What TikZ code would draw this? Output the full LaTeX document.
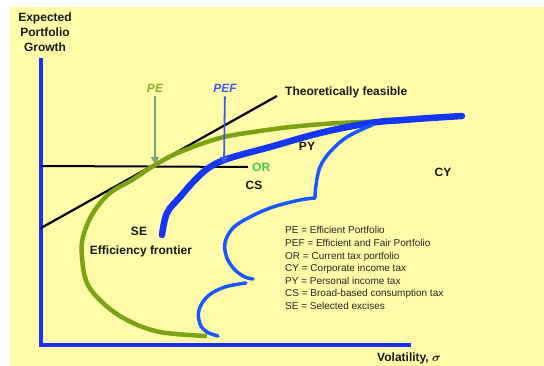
\documentclass[tikz,border=0pt]{standalone}
\usepackage{amsmath}
\usepackage{fontspec}
\setmainfont{Liberation Sans}
\usetikzlibrary{arrows.meta}
\definecolor{bgyellow}{HTML}{FFFBA8}
\definecolor{axisblue}{HTML}{1A2EFF}
\definecolor{taxblue}{HTML}{1A58FF}
\definecolor{thickblue}{HTML}{1536F5}
\definecolor{frontgreen}{HTML}{7BA314}
\definecolor{orgreen}{HTML}{3ECF4A}
\definecolor{pegreen}{HTML}{86AE2A}
\definecolor{pearrow}{HTML}{7E9E78}
\definecolor{pefblue}{HTML}{3A5BE8}
\tikzset{
  lbl/.style={font=\bfseries\fontsize{12}{15}\selectfont, inner sep=0pt, text=black!90},
  keytext/.style={font=\fontsize{10}{12.6}\selectfont, inner sep=0pt, align=left, text=black!85},
  pointer/.style={line width=1.8pt, -{Triangle[width=8pt,length=7pt]}},
  taxcurve/.style={taxblue, line width=3.5pt, line cap=round}
}
\begin{document}
\begin{tikzpicture}[x=1pt,y=-1pt]
\useasboundingbox (0,0) rectangle (544,366);
%background
\fill[bgyellow] (10,7) rectangle (544,366);

%axes
\node[lbl, align=center] (growth) at (45,32) {Expected\\Portfolio\\Growth};
\coordinate (ytop) at (41,58);
\coordinate (origin) at (41,345);
\coordinate (xend) at (411,345);
\draw[axisblue, line width=3.5pt] (ytop) -- (origin) -- (xend);
\node[lbl] (vol) at (409,358) {Volatility, $\boldsymbol{\sigma}$};

%current tax line
\coordinate (orstart) at (41,166);
\node[lbl, text=orgreen, anchor=west] (or) at (252,167) {OR};
\draw[line width=2pt] (orstart) -- (or.west) [shorten >=4pt];

%theoretically feasible
\coordinate (tfstart) at (41,228);
\coordinate (tfend) at (277,96);
\node[lbl, anchor=west] (feasible) at (285,92) {Theoretically feasible};
\draw[line width=2.2pt] (tfstart) -- (tfend);

%efficiency frontier
\draw[frontgreen, line width=4.5pt] plot[smooth, tension=0.6] coordinates {
  (395,121) (340,123) (300,126) (260,131) (220,138) (180,152) (155,165)
  (132,180) (110,193) (93,213) (83,237) (82,257) (87,283) (103,303)
  (127,320) (160,332) (207,336)};

%thick blue frontier
\draw[thickblue, line width=6.5pt, line cap=round] plot[smooth, tension=0.6] coordinates {
  (462,116) (430,118) (403,120) (370,123) (320,133) (270,147) (230,158)
  (210,167) (195,180) (180,197) (167,213) (162,235)};

%scallops
\draw[taxcurve] plot[smooth, tension=0.6] coordinates {
  (372,125) (347,137) (330,152) (320,167) (316,185) (315,197)};
\draw[taxcurve] plot[smooth, tension=0.6] coordinates {
  (315,198) (300,200) (273,207) (250,217) (233,228) (225,243) (227,258)
  (235,270) (245,277) (253,279)};
\draw[taxcurve] plot[smooth, tension=0.6] coordinates {
  (246,283) (225,287) (208,296) (199,310) (200,324) (207,332) (218,336)};

%PE and PEF
\node[lbl, font=\bfseries\itshape\fontsize{12}{15}\selectfont, text=pegreen] (pe) at (155,88) {PE};
\coordinate (pehit) at (155,164);
\draw[pointer, pearrow] (pe) -- (pehit) [shorten <=4pt];
\node[lbl, font=\bfseries\itshape\fontsize{12}{15}\selectfont, text=pefblue] (pef) at (225,88) {PEF};
\coordinate (pefhit) at (224,164);
\draw[pointer, pefblue] (pef) -- (pefhit) [shorten <=4pt];

%region labels
\node[lbl] (py) at (307,146) {PY};
\node[lbl] (cy) at (443,172) {CY};
\node[lbl] (cs) at (254,185) {CS};
\node[lbl] (se) at (139,231) {SE};
\node[lbl] (eff) at (141,251) {Efficiency frontier};

%key
\node[keytext, anchor=north west] (key) at (285,226.5) {PE = Efficient Portfolio\\
PEF = Efficient and Fair Portfolio\\
OR = Current tax portfolio\\
CY = Corporate income tax\\
PY = Personal income tax\\
CS = Broad-based consumption tax\\
SE = Selected excises};
\end{tikzpicture}
\end{document}
